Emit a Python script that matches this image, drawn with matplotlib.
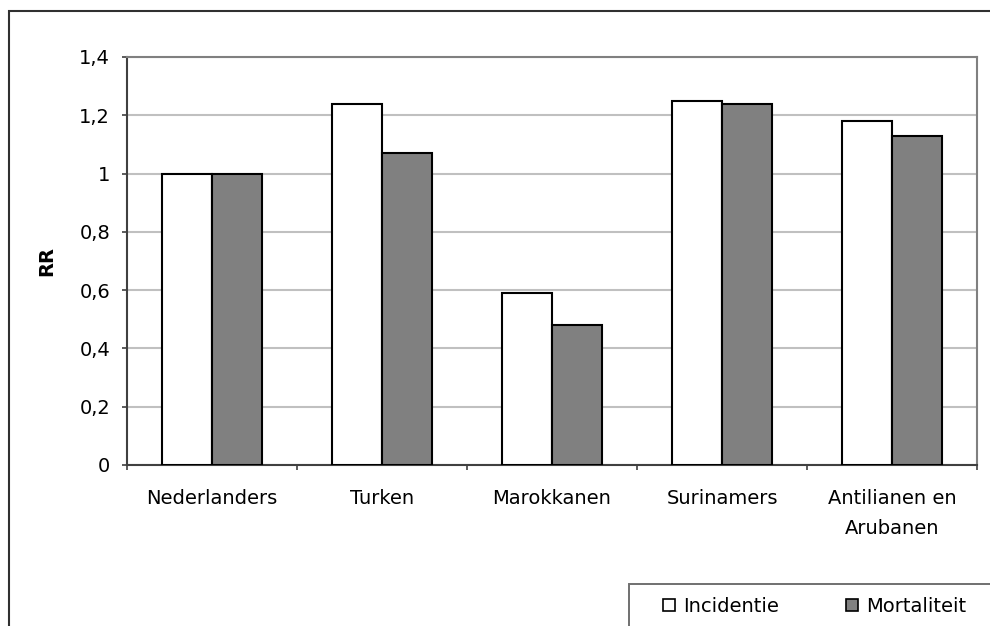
import matplotlib

matplotlib.use("Agg")
import matplotlib.pyplot as plt
import numpy as np
from matplotlib.patches import Patch, Rectangle

groups = ["Nederlanders", "Turken", "Marokkanen", "Surinamers", "Antilianen en\nArubanen"]
incidentie = [1.00, 1.24, 0.59, 1.25, 1.18]
mortaliteit = [1.00, 1.07, 0.48, 1.24, 1.13]
y_ticks = [0, 0.2, 0.4, 0.6, 0.8, 1.0, 1.2, 1.4]
y_labels = ["0", "0,2", "0,4", "0,6", "0,8", "1", "1,2", "1,4"]

plt.rcParams["font.family"] = ["DejaVu Sans"]
FS = 14

W, H = 990, 626
fig = plt.figure(figsize=(W / 100, H / 100), dpi=100)
ax = fig.add_axes([127 / W, 1 - 465 / H, 850 / W, 408 / H])

# outer chart frame, running off the right and bottom edges
fig.patches.append(Rectangle((9 / W, -0.05), 1.1, 1 - 11 / H + 0.05,
                             transform=fig.transFigure, fill=False,
                             edgecolor="#303030", linewidth=1.5, zorder=0))

x = np.arange(len(groups))
w = 0.295
ax.bar(x - w / 2, incidentie, w, color="white", edgecolor="black", linewidth=1.5, zorder=3)
ax.bar(x + w / 2, mortaliteit, w, color="#808080", edgecolor="black", linewidth=1.5, zorder=3)

ax.set_xlim(-0.5, len(groups) - 0.5)
ax.set_ylim(0, 1.4)
ax.set_yticks(y_ticks)
ax.set_yticklabels(y_labels)
ax.set_xticks(x)
ax.set_xticklabels(groups, linespacing=1.75, va="top")
ax.set_xticks(np.arange(len(groups) + 1) - 0.5, minor=True)
ax.tick_params(axis="x", which="major", length=0, pad=17, labelsize=FS)
ax.tick_params(axis="x", which="minor", length=3.6, width=1.2, color="#404040", direction="out")
ax.tick_params(axis="y", length=3.6, width=1.2, color="#404040", pad=8.5, labelsize=FS)

ax.yaxis.grid(True, color="#c0c0c0", linewidth=1.5, zorder=0)
ax.set_axisbelow(True)
for side in ("left", "bottom"):
    ax.spines[side].set_color("#404040")
    ax.spines[side].set_linewidth(1.5)
for side in ("top", "right"):
    ax.spines[side].set_color("#808080")
    ax.spines[side].set_linewidth(1.5)

ax.set_ylabel("RR", fontsize=FS, fontweight="bold")
ax.yaxis.set_label_coords(-0.083, 0.5)

# legend box sits in the lower right corner and is cut by the figure edge
fig.patches.append(Rectangle((629 / W, -0.05), 1.0, 0.05 + 1 - 584 / H,
                             transform=fig.transFigure, fill=False,
                             edgecolor="#707070", linewidth=1.4, zorder=1))
handles = [Patch(facecolor="white", edgecolor="black", linewidth=1.2),
           Patch(facecolor="#808080", edgecolor="black", linewidth=1.2)]
fig.legend(handles, ["Incidentie", "Mortaliteit"], ncol=2,
           loc="upper left", bbox_to_anchor=(663 / W, 1 - 597 / H),
           fontsize=FS, frameon=False,
           handlelength=0.62, handleheight=0.62, handletextpad=0.41,
           columnspacing=3.45, borderpad=0, borderaxespad=0)

fig.savefig("out.png", dpi=100)
